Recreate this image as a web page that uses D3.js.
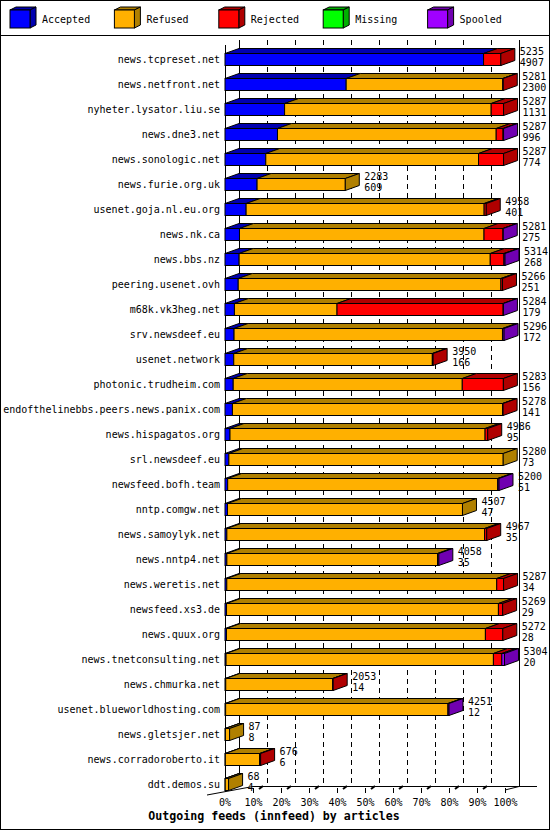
<!DOCTYPE html>
<html>
<head>
<meta charset="utf-8">
<script src="https://cdn.jsdelivr.net/npm/d3@7"></script>
<style>
  body { margin: 0; background: #fff; }
  svg text { font-family: "DejaVu Sans Mono", monospace; font-size: 10px; fill: #000; }
</style>
</head>
<body>
<svg id="chart"></svg>
<script>
// feeds, top to bottom
const feeds = [
  'news.tcpreset.net', 'news.netfront.net', 'nyheter.lysator.liu.se', 'news.dne3.net',
  'news.sonologic.net', 'news.furie.org.uk', 'usenet.goja.nl.eu.org', 'news.nk.ca',
  'news.bbs.nz', 'peering.usenet.ovh', 'm68k.vk3heg.net', 'srv.newsdeef.eu',
  'usenet.network', 'photonic.trudheim.com', 'endofthelinebbs.peers.news.panix.com',
  'news.hispagatos.org', 'srl.newsdeef.eu', 'newsfeed.bofh.team', 'nntp.comgw.net',
  'news.samoylyk.net', 'news.nntp4.net', 'news.weretis.net', 'newsfeed.xs3.de',
  'news.quux.org', 'news.tnetconsulting.net', 'news.chmurka.net',
  'usenet.blueworldhosting.com', 'news.gletsjer.net', 'news.corradoroberto.it', 'ddt.demos.su'
];
const totals = [5235, 5281, 5287, 5287, 5287, 2283, 4958, 5281, 5314, 5266, 5284, 5296, 3950, 5283, 5278,
                4986, 5280, 5200, 4507, 4967, 4058, 5287, 5269, 5272, 5304, 2053, 4251, 87, 676, 68];
const accepted = [4907, 2300, 1131, 996, 774, 609, 401, 275, 268, 251, 179, 172, 166, 156, 141,
                  95, 73, 51, 47, 35, 35, 34, 29, 28, 20, 14, 12, 8, 6, 4];
const refused = [0, 2971, 3921, 4151, 4038, 1674, 4517, 4641, 4766, 4985, 1947, 5094, 3769, 4347, 5127,
                 4841, 5207, 5124, 4460, 4892, 3998, 5123, 5160, 4914, 5074, 2029, 4219, 79, 650, 64];
const rejected = [328, 10, 235, 130, 475, 0, 40, 360, 260, 30, 3153, 0, 15, 780, 10,
                  50, 0, 0, 0, 40, 0, 130, 80, 330, 160, 10, 0, 0, 20, 0];
const missing = [0, 0, 0, 0, 0, 0, 0, 0, 0, 0, 0, 0, 0, 0, 0,
                 0, 0, 0, 0, 0, 0, 0, 0, 0, 0, 0, 0, 0, 0, 0];
const spooled = [0, 0, 0, 10, 0, 0, 0, 5, 20, 0, 5, 30, 0, 0, 0,
                 0, 0, 25, 0, 0, 25, 0, 0, 0, 50, 0, 20, 0, 0, 0];

const keys = ['Accepted', 'Refused', 'Rejected', 'Missing', 'Spooled'];
const faceColors = ['#0000ff', '#ffb000', '#ff0000', '#00ff00', '#a000ff'];
const shadeColors = ['#0000b0', '#b08000', '#b00000', '#00b000', '#7000b0'];
const pctTicks = [0, 10, 20, 30, 40, 50, 60, 70, 80, 90, 100];
const title = 'Outgoing feeds (innfeed) by articles';

const width = 550, height = 830;
const depth = {x: 14, y: 5};
const plot = {left: 225, right: 505, top: 46.5, bottom: 796.5};

const rows = feeds.map((f, i) => ({
  feed: f, total: totals[i],
  Accepted: accepted[i], Refused: refused[i], Rejected: rejected[i],
  Missing: missing[i], Spooled: spooled[i]
}));

const svg = d3.select('#chart')
  .attr('width', width)
  .attr('height', height);

const color = d3.scaleOrdinal().domain(keys).range(faceColors);
const shade = d3.scaleOrdinal().domain(keys).range(shadeColors);

const xScale = d3.scaleLinear()
  .domain([0, d3.max(totals)])
  .range([plot.left, plot.right]);

const pctScale = d3.scaleLinear()
  .domain([0, 100])
  .range([plot.left, plot.right]);

const yScale = d3.scaleBand()
  .domain(feeds)
  .range([plot.top, plot.bottom]);

// frame + legend separator
svg.append('rect')
  .attr('x', 0.5).attr('y', 0.5)
  .attr('width', width - 1).attr('height', height - 1)
  .attr('fill', 'none').attr('stroke', '#000');
svg.append('line')
  .attr('x1', 0).attr('x2', width).attr('y1', 35.5).attr('y2', 35.5)
  .attr('stroke', '#000');

// legend
const legend = svg.append('g');
const legendItem = legend.selectAll('g')
  .data(keys)
  .join('g')
  .attr('transform', (d, i) => `translate(${10 + i * 104.4},0)`);
legendItem.append('polygon')
  .attr('points', '0,10 6,7 26,7 20,10')
  .attr('fill', d => shade(d)).attr('stroke', '#000');
legendItem.append('polygon')
  .attr('points', '20,10 26,7 26,25 20,28')
  .attr('fill', d => shade(d)).attr('stroke', '#000');
legendItem.append('rect')
  .attr('x', 0).attr('y', 10).attr('width', 20).attr('height', 18)
  .attr('fill', d => color(d)).attr('stroke', '#000');
legendItem.append('text')
  .attr('x', 32).attr('y', 23)
  .text(d => d);

// back plane + grid
const grid = svg.append('g').attr('shape-rendering', 'crispEdges');
grid.selectAll('line.grid')
  .data(pctTicks.slice(1, -1))
  .join('line')
  .attr('class', 'grid')
  .attr('x1', d => Math.round(pctScale(d) + depth.x) + 0.5)
  .attr('x2', d => Math.round(pctScale(d) + depth.x) + 0.5)
  .attr('y1', 40).attr('y2', 786)
  .attr('stroke', '#000')
  .attr('stroke-dasharray', '5,4');
[0, 100].forEach(p => {
  grid.append('line')
    .attr('x1', pctScale(p) + depth.x + 0.5).attr('x2', pctScale(p) + depth.x + 0.5)
    .attr('y1', 40).attr('y2', 786)
    .attr('stroke', '#000');
});
grid.append('line')
  .attr('x1', 253).attr('x2', 537).attr('y1', 786.5).attr('y2', 786.5)
  .attr('stroke', '#000');
grid.append('line')
  .attr('x1', plot.left + 0.5).attr('x2', plot.left + 0.5).attr('y1', 45).attr('y2', 792)
  .attr('stroke', '#000');

// floor edges
const floor = svg.append('g').attr('stroke', '#000');
floor.append('line').attr('x1', 207).attr('y1', 795).attr('x2', 253).attr('y2', 786.5);
floor.append('line').attr('x1', plot.right).attr('y1', 790).attr('x2', plot.right + depth.x).attr('y2', 786.5);
floor.selectAll('line.ftick')
  .data(pctTicks.slice(1, -1))
  .join('line')
  .attr('class', 'ftick')
  .attr('x1', d => pctScale(d) + 6).attr('y1', 789)
  .attr('x2', d => pctScale(d) + 10).attr('y2', 786)
  .attr('stroke-width', 2);

// x axis (percent)
const xAxis = d3.axisBottom(pctScale)
  .tickValues(pctTicks.slice(1))
  .tickFormat(d => d + '%')
  .tickSize(5)
  .tickPadding(4)
  .tickSizeOuter(0);
const xAxisG = svg.append('g')
  .attr('transform', 'translate(0,788)')
  .call(xAxis);
xAxisG.select('.domain').remove();
xAxisG.selectAll('text')
  .attr('font-family', null).attr('font-size', null)
  .attr('dy', '0.9em');
svg.append('text')
  .attr('x', pctScale(0)).attr('y', 806)
  .attr('text-anchor', 'middle')
  .text(pctTicks[0] + '%');

// bars
const stack = d3.stack().keys(keys)(rows);
const barH = 12;
const bars = svg.append('g').attr('stroke', '#000').attr('stroke-width', 1);

rows.forEach((row, i) => {
  const cy = yScale(row.feed) + yScale.bandwidth() / 2;
  const y0 = Math.round(cy - barH / 2) + 0.5;
  const y1 = y0 + barH;
  const g = bars.append('g');
  let lastKey = null;
  stack.forEach((layer, k) => {
    const [a, b] = layer[i];
    if (b - a <= 0) return;
    lastKey = keys[k];
    const xa = xScale(a), xb = xScale(b);
    g.append('polygon')
      .attr('points', [[xa, y0], [xb, y0], [xb + depth.x, y0 - depth.y], [xa + depth.x, y0 - depth.y]].join(' '))
      .attr('fill', shade(keys[k]));
    g.append('rect')
      .attr('x', xa).attr('y', y0)
      .attr('width', xb - xa).attr('height', barH)
      .attr('fill', color(keys[k]));
  });
  const xe = xScale(row.total);
  g.append('polygon')
    .attr('points', [[xe, y0], [xe + depth.x, y0 - depth.y], [xe + depth.x, y1 - depth.y], [xe, y1]].join(' '))
    .attr('fill', shade(lastKey));

  svg.append('text')
    .attr('x', xe + depth.x + 5).attr('y', cy - 4)
    .text(row.total);
  svg.append('text')
    .attr('x', xe + depth.x + 5).attr('y', cy + 7)
    .text(row.Accepted);
});

// feed labels
svg.append('g')
  .selectAll('text')
  .data(feeds)
  .join('text')
  .attr('x', 220)
  .attr('y', d => yScale(d) + yScale.bandwidth() / 2 + 4)
  .attr('text-anchor', 'end')
  .text(d => d);

// title
svg.append('text')
  .attr('x', 274).attr('y', 820)
  .attr('text-anchor', 'middle')
  .style('font-weight', 'bold')
  .style('font-size', '11.6px')
  .text(title);
</script>
</body>
</html>
